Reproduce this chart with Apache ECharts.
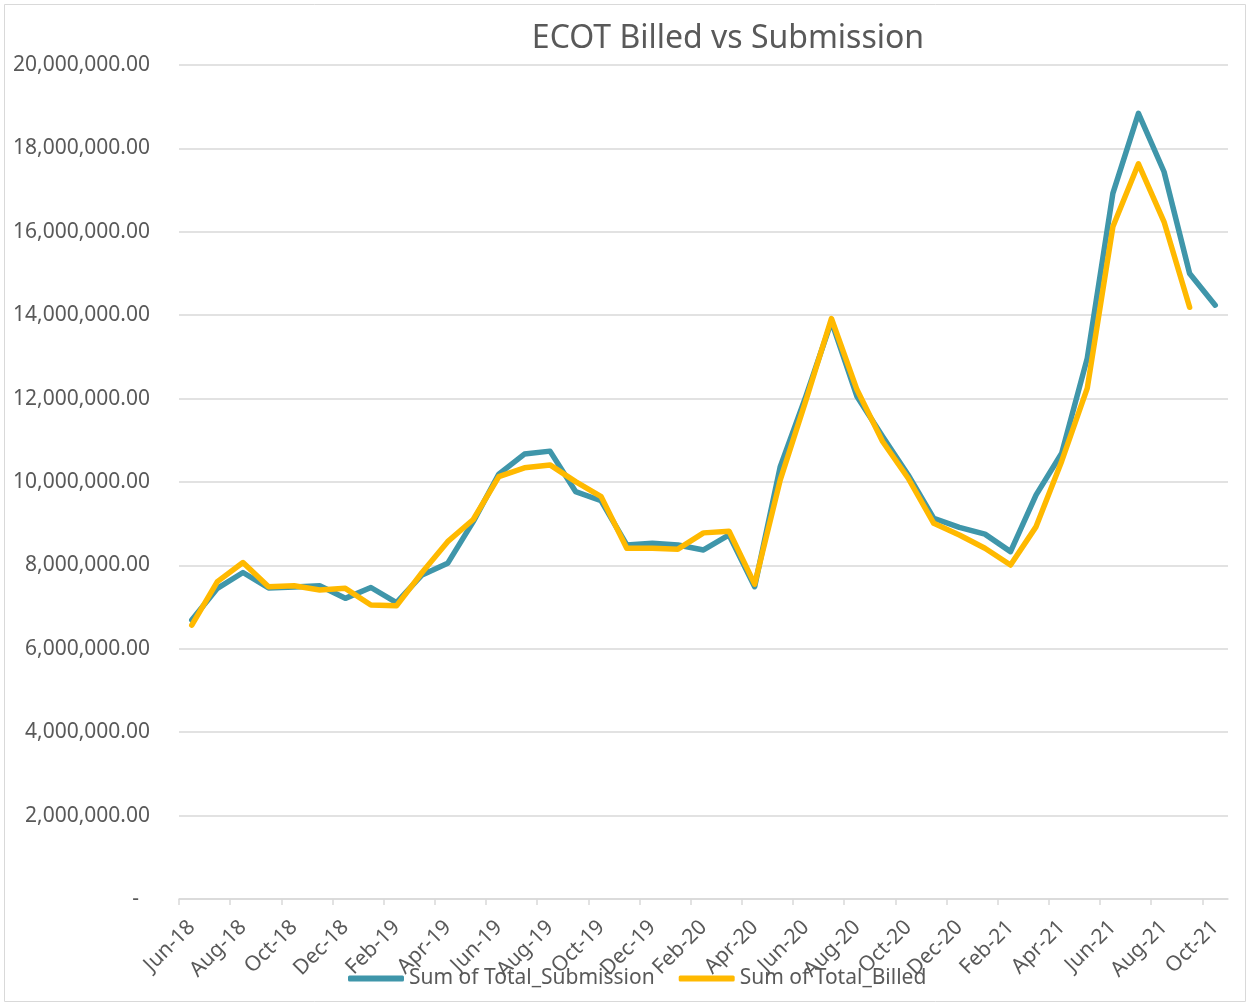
<!DOCTYPE html>
<html>
<head>
<meta charset="utf-8">
<title>ECOT Billed vs Submission</title>
<script src="https://cdn.jsdelivr.net/npm/echarts@6/dist/echarts.min.js"></script>
<style>
  html, body { margin: 0; padding: 0; background: #fff; }
  #chart { width: 1250px; height: 1006px; }
</style>
</head>
<body>
<div id="chart"></div>
<script>
// one entry per month, Jun-18 .. Oct-21
const months = [
  'Jun-18', 'Jul-18', 'Aug-18', 'Sep-18', 'Oct-18', 'Nov-18', 'Dec-18',
  'Jan-19', 'Feb-19', 'Mar-19', 'Apr-19', 'May-19', 'Jun-19', 'Jul-19', 'Aug-19', 'Sep-19', 'Oct-19', 'Nov-19', 'Dec-19',
  'Jan-20', 'Feb-20', 'Mar-20', 'Apr-20', 'May-20', 'Jun-20', 'Jul-20', 'Aug-20', 'Sep-20', 'Oct-20', 'Nov-20', 'Dec-20',
  'Jan-21', 'Feb-21', 'Mar-21', 'Apr-21', 'May-21', 'Jun-21', 'Jul-21', 'Aug-21', 'Sep-21', 'Oct-21'
]

const submission = [
  6690000, 7450000, 7830000, 7460000, 7480000, 7510000, 7210000,
  7470000, 7110000, 7770000, 8050000, 9050000, 10190000, 10670000, 10740000, 9770000, 9550000, 8490000, 8530000,
  8490000, 8370000, 8730000, 7490000, 10370000, 12050000, 13850000, 12050000, 11090000, 10170000, 9130000, 8910000,
  8750000, 8330000, 9690000, 10690000, 12970000, 16920000, 18840000, 17440000, 15000000, 14240000
]

const billed = [
  6570000, 7610000, 8070000, 7490000, 7510000, 7410000, 7450000,
  7050000, 7030000, 7830000, 8570000, 9100000, 10130000, 10340000, 10410000, 10010000, 9650000, 8410000, 8410000,
  8390000, 8780000, 8820000, 7550000, 10050000, 11950000, 13920000, 12210000, 10970000, 10090000, 9010000, 8730000,
  8410000, 8010000, 8930000, 10500000, 12250000, 16120000, 17630000, 16240000, 14190000
]

const textColor = '#595959'
const gridColor = '#d9d9d9'
const font = '"Noto Sans", "Open Sans", sans-serif'

// ticks on every other month boundary, labels hang from the month centre
const tickSlots = months.map((m, i) => i).filter(i => i % 2 === 0)
const labelSlots = tickSlots.map(i => i + 0.5)

const chart = echarts.init(document.getElementById('chart'))

chart.setOption({
  animation: false,
  textStyle: { fontFamily: font },
  title: {
    text: 'ECOT Billed vs Submission',
    left: 723,
    textAlign: 'center',
    top: 18,
    textStyle: { color: textColor, fontSize: 32, fontWeight: 'normal', fontFamily: font }
  },
  graphic: [{
    type: 'rect',
    shape: { x: 4.5, y: 4.5, width: 1241, height: 997 },
    style: { fill: 'none', stroke: gridColor, lineWidth: 1 },
    silent: true
  }],
  legend: {
    left: 343,
    top: 963,
    itemWidth: 56,
    itemHeight: 6,
    itemGap: 24,
    icon: 'roundRect',
    textStyle: { color: textColor, fontSize: 21, fontFamily: font }
  },
  grid: { left: 179, right: 22, top: 65, bottom: 107 },
  xAxis: {
    type: 'value',
    min: 0,
    max: months.length,
    interval: 2,
    splitLine: { show: false },
    axisLine: { lineStyle: { color: gridColor, width: 1.5 } },
    axisTick: { show: true, length: 6, customValues: tickSlots, lineStyle: { color: gridColor, width: 1.5 } },
    axisLabel: {
      customValues: labelSlots,
      rotate: 45,
      margin: 25,
      color: textColor,
      fontSize: 21,
      formatter: v => months[Math.floor(v)] || ''
    }
  },
  yAxis: {
    type: 'value',
    min: 0,
    max: 20000000,
    interval: 2000000,
    axisLine: { show: false },
    axisTick: { show: false },
    splitLine: { lineStyle: { color: gridColor, width: 1.5 } },
    axisLabel: {
      margin: 29,
      color: textColor,
      fontSize: 21,
      formatter: v => v === 0 ? '-  ' : v.toLocaleString('en-US', { minimumFractionDigits: 2, maximumFractionDigits: 2 })
    }
  },
  series: [
    {
      name: 'Sum of Total_Submission',
      type: 'line',
      symbol: 'none',
      color: '#3f96aa',
      lineStyle: { width: 5.5, cap: 'round', join: 'round' },
      data: submission.map((v, i) => [i + 0.5, v])
    },
    {
      name: 'Sum of Total_Billed',
      type: 'line',
      symbol: 'none',
      color: '#ffb900',
      lineStyle: { width: 5.5, cap: 'round', join: 'round' },
      data: billed.map((v, i) => [i + 0.5, v])
    }
  ]
})
</script>
</body>
</html>
